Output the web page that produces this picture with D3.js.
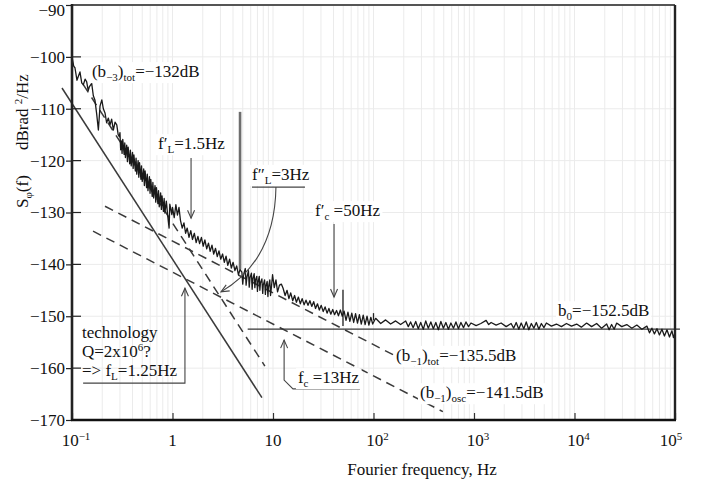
<!DOCTYPE html>
<html>
<head>
<meta charset="utf-8">
<script src="https://cdn.jsdelivr.net/npm/d3@7"></script>
<style>
body { margin: 0; background: #fff; }
text { font-family: "Liberation Serif", "DejaVu Serif", serif; fill: #111; }
</style>
</head>
<body>
<div id="chart"></div>
<script>
const WIDTH = 711;
const HEIGHT = 487;
const margin = {top: 5, right: 36, bottom: 67, left: 72};

const xDomain = [0.1, 1e5];
const yDomain = [-170, -90];
const yTicks = [-170, -160, -150, -140, -130, -120, -110, -100, -90];
const xMajor = [0.1, 1, 10, 100, 1000, 10000, 100000];
const xTickBase = ["10", "1", "10", "10", "10", "10", "10"];
const xTickExp = ["\u22121", "", "", "2", "3", "4", "5"];

// measured phase noise, [frequency Hz, dBrad2/Hz]
const trace = [
  [0.100,-100.0],[0.104,-101.8],[0.107,-102.1],[0.112,-104.5],[0.1155,-103.8],[0.120,-102.9],
  [0.125,-105.0],[0.1295,-105.4],[0.135,-104.3],[0.140,-104.8],[0.145,-106.5],[0.1486,-105.8],
  [0.157,-105.1],[0.163,-107.5],[0.169,-108.3],[0.176,-111.0],[0.183,-114.1],[0.190,-109.5],
  [0.198,-108.3],[0.205,-110.0],[0.213,-110.8],[0.221,-112.7],[0.230,-111.8],[0.239,-113.1],
  [0.248,-112.0],[0.258,-114.1],[0.268,-112.6],[0.279,-113.1],[0.288,-115.0],[0.296,-115.4],
  [0.300,-114.6],[0.305,-117.9],[0.310,-116.2],[0.315,-118.6],[0.320,-115.9],[0.330,-118.8],
  [0.335,-116.6],[0.340,-119.4],[0.350,-117.0],[0.356,-120.2],[0.362,-117.4],[0.375,-120.6],
  [0.381,-118.0],[0.388,-121.0],[0.400,-118.4],[0.406,-121.5],[0.413,-118.9],[0.427,-122.0],
  [0.434,-119.5],[0.441,-122.6],[0.455,-120.0],[0.462,-123.2],[0.470,-120.4],[0.485,-123.6],
  [0.492,-121.0],[0.500,-124.0],[0.517,-121.6],[0.525,-124.8],[0.534,-122.0],[0.552,-125.2],
  [0.561,-122.6],[0.570,-125.8],[0.589,-123.1],[0.598,-126.3],[0.608,-123.6],[0.628,-126.9],
  [0.638,-124.2],[0.649,-127.2],[0.670,-124.8],[0.681,-128.0],[0.692,-125.2],[0.715,-128.3],
  [0.726,-125.8],[0.738,-128.9],[0.762,-126.2],[0.775,-129.4],[0.787,-126.8],[0.813,-129.8],
  [0.826,-127.3],[0.840,-130.1],[0.868,-127.8],[0.896,-130.6],[0.925,-133.0],[0.940,-128.4],
  [0.955,-129.0],[0.985,-130.4],
  [1.00,-129.0],[1.04,-131.0],[1.08,-128.5],[1.12,-130.5],[1.16,-129.0],[1.20,-131.5],
  [1.25,-133.0],[1.30,-132.0],[1.35,-134.0],[1.40,-133.0],[1.46,-134.8],[1.52,-133.5],
  [1.58,-135.2],[1.65,-134.0],[1.72,-135.8],[1.79,-134.6],[1.86,-136.0],[1.94,-134.8],
  [2.02,-136.5],[2.10,-135.3],[2.19,-137.0],[2.28,-135.9],[2.37,-137.5],[2.47,-136.3],
  [2.57,-138.0],[2.68,-136.9],[2.79,-138.5],[2.90,-137.4],[3.02,-139.0],[3.15,-138.0],
  [3.28,-139.6],[3.41,-138.4],[3.55,-140.2],[3.70,-139.0],[3.85,-140.7],[4.01,-139.6],
  [4.18,-141.2],[4.35,-140.3],[4.53,-142.0],[4.70,-141.0],
  [4.90,-141.5],[5.00,-143.8],[5.10,-142.0],[5.30,-140.8],[5.40,-144.0],[5.50,-142.5],
  [5.70,-141.2],[5.80,-144.4],[5.90,-142.6],[6.10,-141.7],[6.20,-144.8],[6.30,-142.8],
  [6.50,-141.8],[6.60,-144.5],[6.70,-143.0],[6.90,-142.3],[7.00,-145.2],[7.10,-143.4],
  [7.30,-142.3],[7.40,-145.0],[7.50,-143.6],[7.75,-142.8],[7.90,-145.6],[8.00,-144.0],
  [8.25,-143.0],[8.40,-145.8],[8.50,-144.2],[8.75,-143.3],[8.90,-146.2],[9.00,-144.5],
  [9.30,-143.0],[9.45,-146.0],[9.60,-144.8],[9.90,-142.0],
  [10.3,-144.5],[10.7,-143.0],[11.1,-145.3],[11.6,-144.0],[12.1,-143.8],[12.6,-144.6],
  [13.2,-146.0],[13.8,-145.0],[14.4,-146.6],[15.0,-145.5],[15.7,-147.0],[16.4,-146.0],
  [17.1,-147.3],[17.9,-146.3],[18.7,-147.6],[19.5,-146.6],[20.4,-147.8],[21.3,-146.9],
  [22.3,-147.9],[23.3,-147.0],[24.3,-148.1],[25.4,-147.2],[26.5,-148.5],[27.7,-147.6],
  [28.9,-148.8],[30.2,-147.9],[31.6,-149.1],[33.0,-148.2],[34.5,-149.4],[36.0,-148.5],
  [37.6,-149.6],[39.3,-148.7],[41.0,-149.7],[42.9,-148.9],[44.8,-149.9],[46.8,-148.8],
  [48.9,-150.0],[51.0,-149.0],[53.3,-150.8],[55.7,-149.2],[58.2,-151.0],[60.8,-149.4],
  [63.5,-151.2],[66.3,-149.5],[69.3,-151.3],[72.4,-149.7],[75.6,-151.5],[79.0,-149.8],
  [82.5,-151.6],[86.2,-150.0],[90.0,-151.7],[94.0,-150.2],[98.2,-151.5],
  [105,-150.4],[118,-151.4],[132,-150.7],[148,-151.5],[166,-150.9],[186,-151.6],
  [209,-150.9],[222,-152.0],[234,-151.1],[248,-152.2],[263,-151.0],[279,-152.4],
  [295,-151.2],[313,-152.5],[331,-150.9],[351,-152.3],[372,-151.1],[394,-152.4],
  [417,-151.2],[442,-152.6],[468,-151.0],[496,-152.3],[525,-151.2],[556,-152.5],
  [589,-151.3],[625,-152.3],[661,-151.1],[700,-152.4],[741,-151.2],[786,-152.2],
  [832,-151.1],[882,-152.0],[933,-151.3],[1050,-151.8],[1170,-151.4],[1320,-150.8],
  [1400,-151.6],[1480,-151.2],[1660,-151.7],[1860,-151.3],[2090,-152.0],[2340,-151.4],
  [2480,-152.3],[2630,-151.2],[2790,-152.5],[2950,-151.3],[3130,-152.4],[3310,-151.1],
  [3510,-152.6],[3720,-151.4],[3940,-152.3],[4170,-151.2],[4420,-152.5],[4680,-151.4],
  [4960,-152.2],[5250,-151.3],[5890,-151.9],[6610,-151.5],[7410,-152.0],[8320,-151.4],
  [9330,-151.9],[10500,-151.5],[11700,-152.1],[13200,-151.3],[14800,-152.0],[16600,-151.4],
  [18600,-152.3],[20900,-151.5],[22100,-152.6],[23400,-151.6],[24800,-152.5],[26300,-151.3],
  [29500,-152.0],[33100,-151.6],[37200,-152.3],[41700,-151.7],[46800,-152.5],[52500,-151.9],
  [55700,-153.2],[58900,-152.3],[62400,-153.4],[66100,-152.4],[70000,-153.6],[74100,-152.5],
  [78500,-153.8],[83200,-152.6],[88100,-154.0],[93300,-152.8],[96500,-154.1],[100000,-153.2]
];

// spurious lines [f, bottom dB, top dB]
const spikes = [[4.7, -141.0, -110.6], [49.7, -151.9, -144.9], [100, -150.8, -149.4]];

// asymptotes, [f, dB] end points
const b3osc = [[0.0795, -106.0], [7.76, -165.7]];
const b3tot = [[0.13, -105.4], [8.3, -159.6]];
const b1tot = [[0.213, -128.8], [259, -159.6]];
const b1osc = [[0.162, -133.6], [490, -168.4]];
const b0line = [[5.6, -152.5], [1.12e5, -152.5]];

// annotation pointers
const arrowFL1 = [[1.53, -119.5], [1.53, -131.1]];
const arrowFC1 = [[40.5, -132.2], [40.5, -146.3]];
const arrowFC = [[73.5, -164.0], [15.8, -164.0], [12.9, -162.3], [12.9, -154.6]];
const arrowTech = [[0.129, -162.9], [1.33, -162.9], [1.33, -144.6]];
const underFL2 = [[6.18, -125.1], [20.8, -125.1]];
const curveFL2 = [[10.7, -125.1], [10.5, -135.3], [6.62, -141.5], [3.04, -145.3]];

const labels = [
  {f: 0.158, v: -103.9, bg: true, parts: [["(b", ""], ["\u22123", "sub"], [")", ""], ["tot", "sub"], ["=\u2212132dB", ""]]},
  {f: 0.718, v: -117.8, bg: true, parts: [["f\u2032", ""], ["L", "sub"], ["=1.5Hz", ""]]},
  {f: 6.18, v: -123.7, bg: true, parts: [["f\u2033", ""], ["L", "sub"], ["=3Hz", ""]]},
  {f: 26.2, v: -130.7, bg: true, parts: [["f\u2032", ""], ["c", "sub"], [" =50Hz", ""]]},
  {f: 17.7, v: -162.9, bg: true, parts: [["f", ""], ["c", "sub"], [" =13Hz", ""]]},
  {f: 6860, v: -150.0, bg: true, parts: [["b", ""], ["0", "sub"], ["=\u2212152.5dB", ""]]},
  {f: 167.5, v: -158.6, bg: true, parts: [["(b", ""], ["\u22121", "sub"], [")", ""], ["tot", "sub"], ["=\u2212135.5dB", ""]]},
  {f: 290, v: -165.8, bg: true, parts: [["(b", ""], ["\u22121", "sub"], [")", ""], ["osc", "sub"], ["=\u2212141.5dB", ""]]},
  {f: 0.1257, v: -154.2, bg: false, parts: [["technology", ""]]},
  {f: 0.1257, v: -157.9, bg: false, parts: [["Q=2x10", ""], ["6", "sup"], ["?", ""]]},
  {f: 0.1257, v: -161.5, bg: false, parts: [["=> f", ""], ["L", "sub"], ["=1.25Hz", ""]]}
];

const w = WIDTH - margin.left - margin.right;
const h = HEIGHT - margin.top - margin.bottom;

const svg = d3.select("#chart").append("svg").attr("width", WIDTH).attr("height", HEIGHT);
const defs = svg.append("defs");
defs.append("marker").attr("id", "arr")
  .attr("viewBox", "-10 -5 12 10").attr("refX", 0).attr("refY", 0)
  .attr("markerWidth", 12).attr("markerHeight", 10).attr("markerUnits", "userSpaceOnUse")
  .attr("orient", "auto")
  .append("path").attr("d", "M-8,-3.5L0,0L-8,3.5").attr("fill", "none").attr("stroke", "#444").attr("stroke-width", 1.1);

const g = svg.append("g").attr("transform", "translate(" + margin.left + "," + margin.top + ")");

const x = d3.scaleLog().domain(xDomain).range([0, w]);
const y = d3.scaleLinear().domain(yDomain).range([h, 0]);
const line = d3.line().x(d => x(d[0])).y(d => y(d[1]));

function rich(sel, parts, size) {
  let shift = 0;
  parts.forEach(([t, k]) => {
    const target = k === "sub" ? 4 : k === "sup" ? -6 : 0;
    sel.append("tspan").attr("dy", target - shift)
      .attr("font-size", k ? Math.round(size * 0.66) : size).text(t);
    shift = target;
  });
}

// grid
g.append("g").selectAll("line").data(x.ticks()).join("line")
  .attr("x1", d => x(d)).attr("x2", d => x(d)).attr("y1", 0).attr("y2", h)
  .attr("stroke", "#ebebeb").attr("stroke-width", 1);
g.append("g").selectAll("line").data(yTicks).join("line")
  .attr("x1", 0).attr("x2", w).attr("y1", d => y(d)).attr("y2", d => y(d))
  .attr("stroke", "#ebebeb").attr("stroke-width", 1);

// asymptotes
g.append("path").attr("d", line(b3osc)).attr("fill", "none").attr("stroke", "#3a3a3a").attr("stroke-width", 1.5);
[b3tot, b1tot, b1osc].forEach(seg => {
  g.append("path").attr("d", line(seg)).attr("fill", "none")
    .attr("stroke", "#3a3a3a").attr("stroke-width", 1.5).attr("stroke-dasharray", "9,6");
});
g.append("path").attr("d", line(b0line)).attr("fill", "none").attr("stroke", "#333").attr("stroke-width", 1.3);

// spurs
g.append("g").selectAll("line").data(spikes).join("line")
  .attr("x1", d => x(d[0])).attr("x2", d => x(d[0]))
  .attr("y1", d => y(d[1])).attr("y2", d => y(d[2]))
  .attr("stroke", (d, i) => i === 0 ? "#6e6e6e" : "#222")
  .attr("stroke-width", (d, i) => i === 0 ? 2.6 : 1.3);

// measured trace
g.append("path").attr("d", line(trace)).attr("fill", "none")
  .attr("stroke", "#1a1a1a").attr("stroke-width", 1.3).attr("stroke-linejoin", "round");

// pointers
[arrowFL1, arrowFC1, arrowFC, arrowTech].forEach(seg => {
  g.append("path").attr("d", line(seg)).attr("fill", "none")
    .attr("stroke", "#444").attr("stroke-width", 1.1).attr("marker-end", "url(#arr)");
});
g.append("path").attr("d", line(underFL2)).attr("fill", "none").attr("stroke", "#444").attr("stroke-width", 1.1);
const cp = curveFL2.map(d => [x(d[0]), y(d[1])]);
g.append("path")
  .attr("d", "M" + cp[0] + "C" + cp[1] + " " + cp[2] + " " + cp[3])
  .attr("fill", "none").attr("stroke", "#444").attr("stroke-width", 1.1).attr("marker-end", "url(#arr)");

// labels
labels.forEach(l => {
  const bgRect = g.append("rect").attr("fill", "#fff");
  const t = g.append("text").attr("x", x(l.f)).attr("y", y(l.v)).style("white-space", "pre");
  rich(t, l.parts, 17);
  if (l.bg) {
    const b = t.node().getBBox();
    bgRect.attr("x", b.x - 2).attr("y", b.y).attr("width", b.width + 4).attr("height", b.height);
  } else {
    bgRect.remove();
  }
});

// axes
const yAxis = g.append("g").call(d3.axisLeft(y).tickValues(yTicks).tickSize(6).tickPadding(1).tickFormat(d3.format("d")));
yAxis.select(".domain").remove();
yAxis.selectAll(".tick line").attr("stroke", "#222").attr("stroke-width", 1.2);
yAxis.selectAll(".tick text").attr("font-size", 17).attr("font-family", "Liberation Serif").attr("fill", "#111")
  .attr("dy", d => d === -90 ? "0.6em" : "0.32em");
g.append("g").selectAll("line").data(yTicks.slice(1, -1)).join("line")
  .attr("x1", 0).attr("x2", 9).attr("y1", d => y(d)).attr("y2", d => y(d))
  .attr("stroke", "#222").attr("stroke-width", 1.2);

const xAxis = g.append("g").attr("transform", "translate(0," + h + ")")
  .call(d3.axisBottom(x).tickValues(xMajor).tickSize(-7).tickFormat(""));
xAxis.select(".domain").remove();
xAxis.selectAll(".tick line").attr("stroke", "#333").attr("stroke-width", 1.2);

xMajor.forEach((v, i) => {
  const last = i === xMajor.length - 1;
  const t = g.append("text")
    .attr("x", x(v) + (xTickExp[i] ? (last ? -4 : 4) : 0))
    .attr("y", h + 26).attr("text-anchor", "middle");
  rich(t, xTickExp[i] ? [[xTickBase[i], ""], [xTickExp[i], "sup"]] : [[xTickBase[i], ""]], 17);
});

// frame
g.append("line").attr("x1", 0).attr("x2", w).attr("y1", 0).attr("y2", 0).attr("stroke", "#555").attr("stroke-width", 2);
g.append("line").attr("x1", w).attr("x2", w).attr("y1", 0).attr("y2", h).attr("stroke", "#222").attr("stroke-width", 2.4);
g.append("line").attr("x1", 0).attr("x2", 0).attr("y1", -1).attr("y2", h + 1).attr("stroke", "#222").attr("stroke-width", 2.6);
g.append("line").attr("x1", -1).attr("x2", w + 1).attr("y1", h).attr("y2", h).attr("stroke", "#111").attr("stroke-width", 2.6);

// axis titles
const yt1 = svg.append("text").attr("transform", "translate(28,208) rotate(-90)");
rich(yt1, [["S", ""], ["\u03c6", "sub"], ["(f)", ""]], 17);
const yt2 = svg.append("text").attr("transform", "translate(28,150) rotate(-90)");
rich(yt2, [["dBrad ", ""], ["2", "sup"], ["/Hz", ""]], 17);
svg.append("text").attr("x", 422).attr("y", 475).attr("text-anchor", "middle")
  .attr("font-size", 17).text("Fourier frequency, Hz");
</script>
</body>
</html>
